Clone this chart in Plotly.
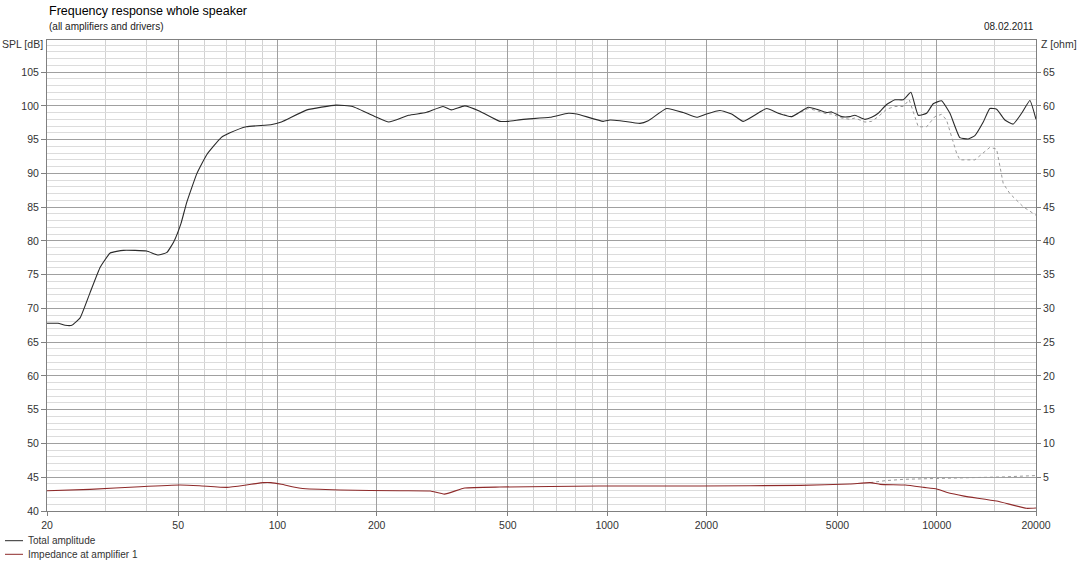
import math
import plotly.graph_objects as go

# ---- data ----
spl_freq = [20, 21.6, 22.7, 23.8, 25.2, 27.0, 29.0, 31.1, 34.1, 40.1, 43.5, 46.2, 48.4, 51.0, 53.0,
            57.0, 61.1, 67.5, 71.8, 80.4, 95.5, 102.8, 122.9, 150.5, 169, 200, 217.5, 250, 282,
            318, 337, 370, 411, 473, 501, 557, 671, 762, 809, 973, 1020, 1094, 1258, 1333, 1516,
            1702, 1870, 2004, 2200, 2386, 2588, 3048, 3305, 3628, 4076, 4320, 4634, 4798, 5146,
            5452, 5646, 6054, 6344, 6643, 7046, 7465, 7912, 8348, 8786, 9316, 9754, 10344, 10965,
            11750, 12456, 13052, 13836, 14490, 15190, 16096, 17060, 18086, 19166, 20000]
spl_total = [67.8, 67.8, 67.5, 67.5, 68.6, 72.3, 76.1, 78.2, 78.6, 78.5, 77.9, 78.3, 79.8, 82.6, 85.6,
             90.0, 92.8, 95.3, 96.0, 96.9, 97.2, 97.6, 99.4, 100.1, 99.9, 98.3, 97.6, 98.6, 99.0,
             99.9, 99.4, 100.0, 99.2, 97.7, 97.7, 98.0, 98.3, 98.9, 98.8, 97.7, 97.9, 97.8, 97.4, 97.8, 99.6,
             99.0, 98.3, 98.8, 99.3, 98.8, 97.7, 99.6, 98.9, 98.4, 99.8, 99.5, 99.0, 99.1, 98.4,
             98.4, 98.6, 98.0, 98.3, 98.9, 100.2, 100.9, 100.9, 102.0, 98.6, 98.9, 100.3, 100.75, 98.9,
             95.3, 95.1, 95.6, 97.6, 99.6, 99.5, 97.9, 97.3, 98.9, 100.8, 98.0]

ref_freq = [3305, 3628, 4076, 4320, 4634, 4798, 5146, 5452, 5646, 6054, 6344, 6643, 7046, 7465, 7912,
            8252, 8786, 9316, 9870, 10344, 10708, 11484, 11750, 13052, 14490, 15190, 15906, 16666,
            18296, 20000]
ref_spl = [98.9, 98.4, 99.6, 99.3, 98.8, 98.8, 98.2, 98.0, 98.2, 97.6, 97.7, 98.4, 99.5, 99.9, 99.9,
           100.9, 96.9, 96.9, 98.4, 98.75, 97.9, 93.0, 92.0, 92.0, 93.85, 93.6, 88.5, 87.0,
           85.05, 83.8]

imp_freq = [20, 27, 38.3, 50.6, 58, 70.3, 80.5, 90.6, 95.5, 102.8, 117.6, 155, 235, 291, 321, 370,
            473, 948, 1910, 3860, 5452, 6280, 6740, 8030, 9140, 10000, 10700, 12100, 15190, 18700, 20000]
imp_ohm = [3.0, 3.2, 3.6, 3.85, 3.75, 3.5, 3.85, 4.2, 4.2, 3.95, 3.36, 3.1, 3.0, 2.96, 2.5, 3.4,
           3.55, 3.7, 3.7, 3.8, 4.0, 4.2, 3.95, 3.85, 3.5, 3.26, 2.77, 2.2, 1.48, 0.4, 0.45]

imp_ref_freq = [6280, 7000, 8000, 10000, 13000, 16000, 20000]
imp_ref_ohm = [4.2, 4.5, 4.7, 4.85, 4.95, 5.05, 5.25]

x_major = [20, 50, 100, 200, 500, 1000, 2000, 5000, 10000, 20000]
x_minor = [30, 40, 60, 70, 80, 90, 150, 300, 400, 600, 700, 800, 900, 1500,
           3000, 4000, 6000, 7000, 8000, 9000, 15000]
spl_ticks = list(range(40, 110, 5))
z_ticks = list(range(5, 70, 5))

title = "Frequency response whole speaker"
subtitle = "(all amplifiers and drivers)"
date_txt = "08.02.2011"
legend_names = ["Total amplitude", "Impedance at amplifier 1"]

# ---- figure ----
W, H = 1078, 563
ML, MR, MT, MB = 47, 42, 40, 52
PW, PH = W - ML - MR, H - MT - MB
FONT = "Liberation Sans"
C_SPL = "#2b2b2b"
C_IMP = "#8e2a2a"

def px_x(px):
    return (px - ML) / PW

def px_y(py):
    return (H - MB - py) / PH

fig = go.Figure()
fig.add_trace(go.Scatter(x=ref_freq, y=ref_spl, mode="lines", showlegend=False,
                         line=dict(color="#9a9a9a", width=1, dash="dot")))
fig.add_trace(go.Scatter(x=spl_freq, y=spl_total, mode="lines", name=legend_names[0], showlegend=False,
                         line=dict(color=C_SPL, width=1.1, shape="spline", smoothing=0.4)))
fig.add_trace(go.Scatter(x=imp_ref_freq, y=imp_ref_ohm, yaxis="y2", mode="lines", showlegend=False,
                         line=dict(color="#9a9a9a", width=1, dash="dot")))
fig.add_trace(go.Scatter(x=imp_freq, y=imp_ohm, yaxis="y2", mode="lines", name=legend_names[1],
                         showlegend=False,
                         line=dict(color=C_IMP, width=1.1, shape="spline", smoothing=0.4)))

tickfont = dict(family=FONT, size=10.5, color="#333333")
fig.update_layout(
    width=W, height=H,
    margin=dict(l=ML, r=MR, t=MT, b=MB),
    paper_bgcolor="white", plot_bgcolor="white",
    showlegend=False,
    xaxis=dict(type="log", range=[math.log10(20), math.log10(20000)],
               tickmode="array", tickvals=x_major, ticktext=[str(v) for v in x_major],
               showgrid=True, gridcolor="#a0a0a0", gridwidth=1,
               minor=dict(tickmode="array", tickvals=x_minor, showgrid=True,
                          gridcolor="#d2d2d2", gridwidth=1, ticks=""),
               showline=True, linecolor="#808080", linewidth=1, mirror=True,
               ticks="outside", ticklen=4, tickcolor="#808080",
               tickfont=tickfont, zeroline=False),
    yaxis=dict(range=[40, 109.75], tickmode="array", tickvals=spl_ticks,
               ticktext=[str(v) for v in spl_ticks],
               showgrid=True, gridcolor="#a0a0a0", gridwidth=1,
               minor=dict(dtick=1, tick0=40, showgrid=True, gridcolor="#dcdcdc",
                          gridwidth=1, ticks=""),
               showline=True, linecolor="#808080", linewidth=1,
               ticks="outside", ticklen=5, tickcolor="#808080",
               tickfont=tickfont, zeroline=False),
    yaxis2=dict(range=[0, 69.75], overlaying="y", side="right", tickmode="array",
                tickvals=z_ticks, ticktext=[str(v) for v in z_ticks],
                showgrid=False, showline=True, linecolor="#808080", linewidth=1,
                ticks="outside", ticklen=4, tickcolor="#808080",
                tickfont=tickfont, zeroline=False),
)

ann = []
ann.append(dict(text=title, x=0, y=px_y(11), xref="paper", yref="paper", xanchor="left",
                yanchor="middle", showarrow=False, font=dict(family=FONT, size=12.5, color="#000")))
ann.append(dict(text=subtitle, x=0, y=px_y(26.7), xref="paper", yref="paper", xanchor="left",
                yanchor="middle", showarrow=False, font=dict(family=FONT, size=10, color="#222")))
ann.append(dict(text=date_txt, x=1, y=px_y(26.7), xref="paper", yref="paper", xanchor="right",
                yanchor="middle", showarrow=False, font=dict(family=FONT, size=10, color="#222")))
ann.append(dict(text="SPL [dB]", x=px_x(45), y=px_y(43.5), xref="paper", yref="paper",
                xanchor="right", yanchor="middle", showarrow=False,
                font=dict(family=FONT, size=10.5, color="#333")))
ann.append(dict(text="Z [ohm]", x=px_x(1039), y=px_y(43.5), xref="paper", yref="paper",
                xanchor="left", yanchor="middle", showarrow=False,
                font=dict(family=FONT, size=10.5, color="#333")))

shapes = []
for name, col, py in [(legend_names[0], C_SPL, 540.7), (legend_names[1], C_IMP, 554.3)]:
    shapes.append(dict(type="line", xref="paper", yref="paper", x0=px_x(5), x1=px_x(23),
                       y0=px_y(py), y1=px_y(py), line=dict(color=col, width=1)))
    ann.append(dict(text=name, x=px_x(26), y=px_y(py), xref="paper", yref="paper",
                    xanchor="left", yanchor="middle", showarrow=False,
                    font=dict(family=FONT, size=10, color="#333")))

fig.update_layout(annotations=ann, shapes=shapes)
fig.write_html("out.html", config={"displayModeBar": False},
               post_script="document.body.style.margin='0px';document.body.style.overflow='hidden';")
